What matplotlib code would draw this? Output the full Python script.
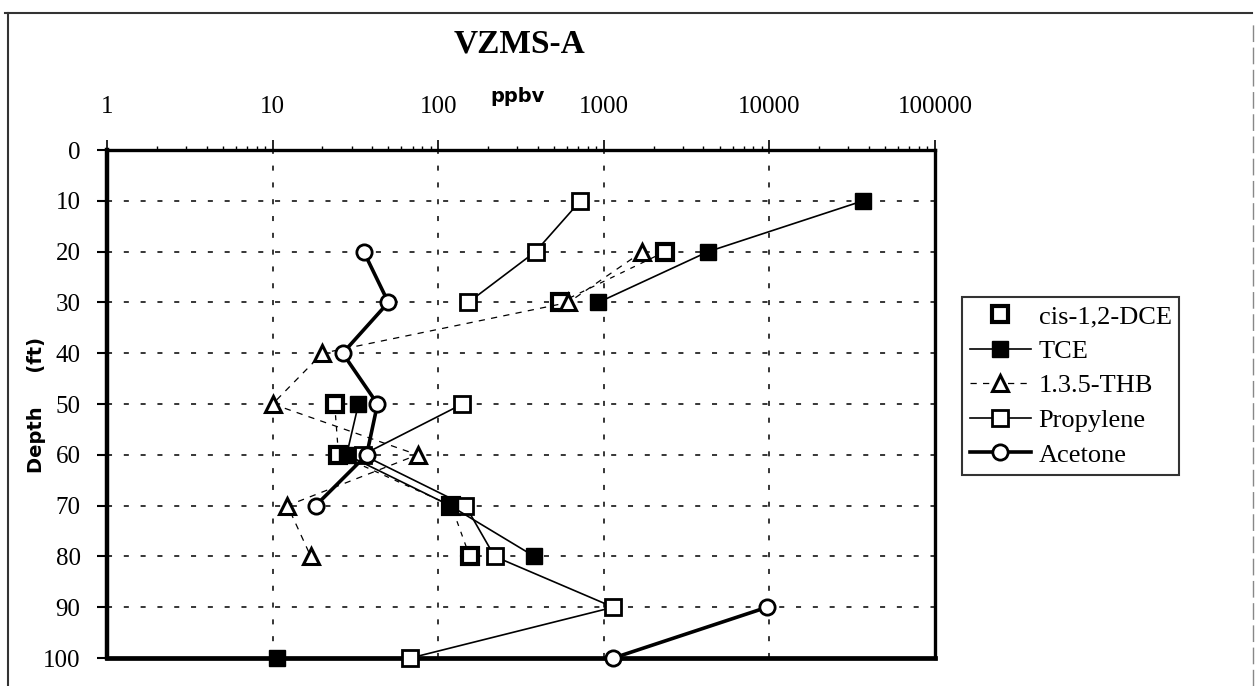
import numpy as np
import matplotlib
matplotlib.use("Agg")
import matplotlib.pyplot as plt
from matplotlib.lines import Line2D

nan = np.nan

# depth below surface (ft) and concentrations (ppbv)
depth = [10, 20, 30, 40, 50, 60, 70, 80, 90, 100]
dce = [nan, 2350, 547, nan, 23.7, 25, 120, 155, nan, nan]
tce = [36800, 4270, 927, nan, 33, 28, 118, 381, nan, 10.6]
thb = [nan, 1710, 612, 20, 10, 75, 12.3, 17, nan, nan]
propylene = [723, 387, 152, nan, 140, 35, 146, 219, 1143, 68]
acetone = [nan, 35.5, 50, 26.5, 43, 37, 18.2, nan, 9700, 1143]

names = ["cis-1,2-DCE", "TCE", "1.3.5-THB", "Propylene", "Acetone"]
xticks = [1, 10, 100, 1000, 10000, 100000]
xlabels = ["1", "10", "100", "1000", "10000", "100000"]
yticks = [0, 10, 20, 30, 40, 50, 60, 70, 80, 90, 100]

serif = "Liberation Serif"
sans = "DejaVu Sans"

fig = plt.figure(figsize=(12.56, 6.86), dpi=100)
ax = fig.add_axes([0.0852, 0.0408, 0.6592, 0.7405])

# grid first so the data sits on top
grid_style = dict(color="black", lw=1.1, linestyle=(0, (3.3, 7.7)), zorder=1)
for d in yticks[1:-1]:
    ax.axhline(d, **grid_style)
for v in xticks[1:-1]:
    ax.axvline(v, **grid_style)

ax.plot(dce, depth, color="black", lw=0.9, linestyle=(0, (4, 5)),
        marker="s", ms=11, mfc="white", mec="black", mew=3, zorder=4, clip_on=False)
ax.plot(tce, depth, color="black", lw=1.2, marker="s", ms=12,
        mfc="black", mec="black", zorder=5, clip_on=False)
ax.plot(thb, depth, color="black", lw=0.9, linestyle=(0, (5, 5)),
        marker="^", ms=12, mfc="white", mec="black", mew=2.2, zorder=4, clip_on=False)
ax.plot(propylene, depth, color="black", lw=1.2, marker="s", ms=12,
        mfc="white", mec="black", mew=2, zorder=4, clip_on=False)
ax.plot(acetone, depth, color="black", lw=2.6, marker="o", ms=11,
        mfc="white", mec="black", mew=2, zorder=6, clip_on=False)

ax.set_xscale("log")
ax.set_xlim(1, 100000)
ax.set_ylim(100, 0)

ax.xaxis.tick_top()
ax.set_xticks(xticks)
ax.set_xticklabels(xlabels, fontfamily=serif, fontsize=18)
ax.tick_params(axis="x", which="major", direction="out", length=7, width=1.2, pad=16)
ax.tick_params(axis="x", which="minor", direction="out", length=3, width=1)
ax.set_yticks(yticks)
ax.set_yticklabels([str(t) for t in yticks], fontfamily=serif, fontsize=18)
ax.tick_params(axis="y", direction="out", length=7, width=1.5, pad=12)

ax.spines["left"].set_linewidth(3.2)
ax.spines["bottom"].set_linewidth(3.4)
ax.spines["top"].set_linewidth(2.4)
ax.spines["right"].set_linewidth(2.4)

fig.text(36 / 1256, 1 - 405 / 686, "Depth     (ft)", rotation=90, ha="center", va="center",
         fontfamily=sans, fontweight="bold", fontsize=14)
fig.text(519 / 1256, 1 - 44 / 686, "VZMS-A", ha="center", va="center",
         fontfamily=serif, fontweight="bold", fontsize=24)
fig.text(518 / 1256, 1 - 96 / 686, "ppbv", ha="center", va="center",
         fontfamily=sans, fontweight="bold", fontsize=14)

handles = [
    Line2D([], [], linestyle="none", marker="s", ms=11, mfc="white", mec="black", mew=3),
    Line2D([], [], color="black", lw=1.2, marker="s", ms=12, mfc="black", mec="black"),
    Line2D([], [], color="black", lw=0.9, linestyle=(0, (5, 5)), marker="^", ms=12,
           mfc="white", mec="black", mew=2.2),
    Line2D([], [], color="black", lw=1.2, marker="s", ms=12, mfc="white", mec="black", mew=2),
    Line2D([], [], color="black", lw=2.6, marker="o", ms=11, mfc="white", mec="black", mew=2),
]
leg = fig.legend(handles, names, loc="upper left", bbox_to_anchor=(962 / 1256, 1 - 297 / 686),
                 frameon=True, fancybox=False, borderaxespad=0, handlelength=2.3,
                 handletextpad=0.3, labelspacing=0.42, borderpad=0.3,
                 prop={"family": serif, "size": 19})
leg.get_frame().set_edgecolor("black")
leg.get_frame().set_linewidth(1.5)

# outer chart frame
fig.add_artist(Line2D([5 / 1256, 1252 / 1256], [1 - 13 / 686, 1 - 13 / 686],
                      transform=fig.transFigure, color="#333333", lw=1.5))
fig.add_artist(Line2D([8 / 1256, 8 / 1256], [0, 1 - 13 / 686],
                      transform=fig.transFigure, color="#333333", lw=1.5))
fig.add_artist(Line2D([1253 / 1256, 1253 / 1256], [0, 1 - 20 / 686],
                      transform=fig.transFigure, color="#888888", lw=1, linestyle=(0, (12, 4))))

fig.savefig("out.png", dpi=100)
